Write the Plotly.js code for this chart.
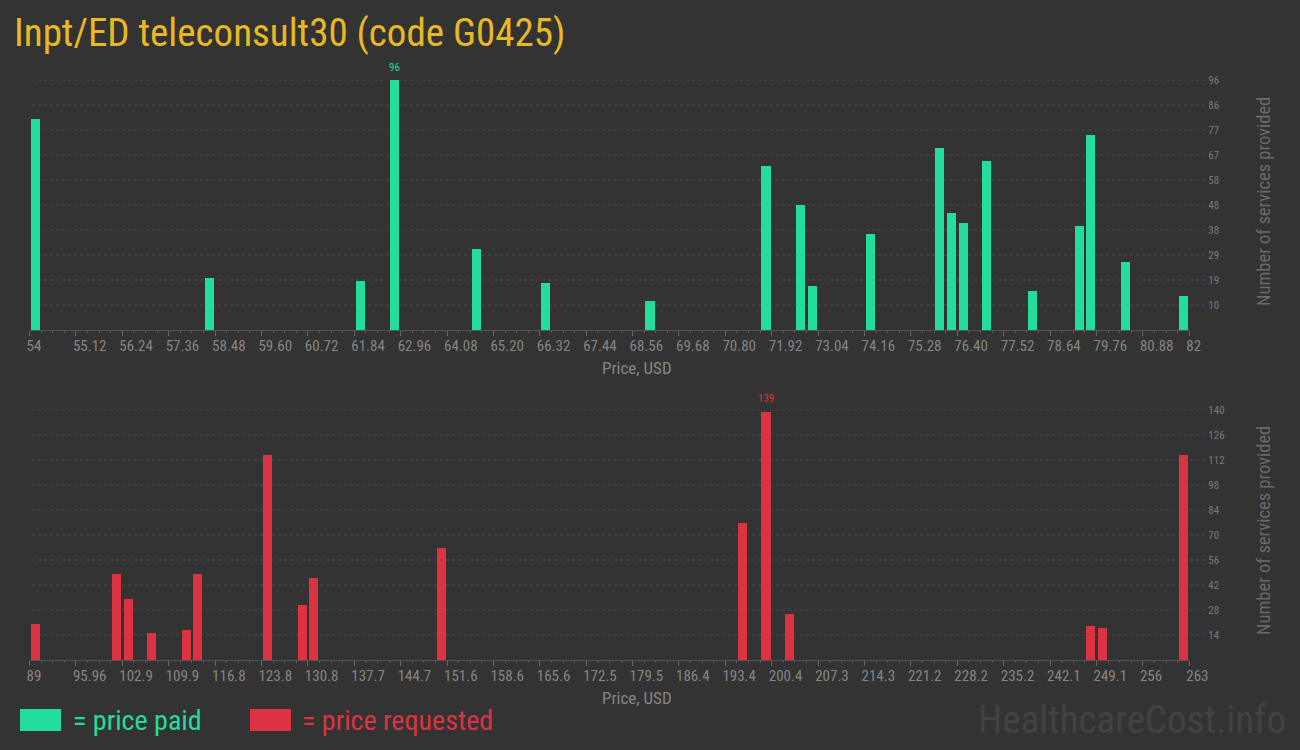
<!DOCTYPE html>
<html>
<head>
<meta charset="utf-8">
<script src="https://cdn.plot.ly/plotly-3.0.1.min.js"></script>
<style>
html,body{margin:0;padding:0;background:#333333;}
#chart{width:1300px;height:750px;}
</style>
</head>
<body>
<div id="chart"></div>
<script>
// ---- data ----
const paidPrices = [54.14, 58.34, 61.98, 62.82, 64.78, 66.46, 68.98, 71.78, 72.62, 72.90,
                    74.30, 75.98, 76.26, 76.54, 77.10, 78.22, 79.34, 79.62, 80.46, 81.86];
const paidCounts = [81, 20, 19, 96, 31, 18, 11, 63, 48, 17,
                    37, 70, 45, 41, 65, 15, 40, 75, 26, 13];

const reqPrices = [89.87, 102.05, 103.79, 107.27, 112.49, 114.23, 124.67, 129.89, 131.63,
                   150.77, 196.01, 199.49, 202.97, 248.21, 249.95, 262.13];
const reqCounts = [20, 48, 34, 15, 17, 48, 115, 31, 46,
                   63, 77, 139, 26, 19, 18, 115];

const paidTickText = ["54","55.12","56.24","57.36","58.48","59.60","60.72","61.84","62.96","64.08",
  "65.20","66.32","67.44","68.56","69.68","70.80","71.92","73.04","74.16","75.28","76.40",
  "77.52","78.64","79.76","80.88","82"];
const reqTickText = ["89","95.96","102.9","109.9","116.8","123.8","130.8","137.7","144.7","151.6",
  "158.6","165.6","172.5","179.5","186.4","193.4","200.4","207.3","214.3","221.2","228.2",
  "235.2","242.1","249.1","256","263"];
const paidYTickText = ["10","19","29","38","48","58","67","77","86","96"];
const reqYTickText = ["14","28","42","56","70","84","98","112","126","140"];

const titleText = "Inpt/ED teleconsult30 (code G0425)";
const xTitle = "Price, USD";
const yTitle = "Number of services provided";
const legendPaid = "= price paid";
const legendReq = "= price requested";
const watermark = "HealthcareCost.info";

// ---- styling ----
const GREEN = "#22dd9b";
const RED = "#dc3343";
const BG = "#333333";
const NARROW = "'Roboto Condensed', 'Liberation Sans Narrow', Roboto, sans-serif";
const W = 1300, H = 750;

const paidMin = 54, paidMax = 82, reqMin = 89, reqMax = 263;
const nBins = 100;
const paidBin = (paidMax - paidMin) / nBins;
const reqBin = (reqMax - reqMin) / nBins;
const paidYMax = Math.max(...paidCounts);
const reqYMax = 140;

const r2 = v => Math.round(v * 100) / 100;
const paidTickVals = paidTickText.map((_, i) => r2(paidMin + i * (paidMax - paidMin) / 25));
const reqTickVals = reqTickText.map((_, i) => r2(reqMin + i * (reqMax - reqMin) / 25));
const paidYTickVals = paidYTickText.map((_, i) => r2((i + 1) * paidYMax / 10));
const reqYTickVals = reqYTickText.map((_, i) => (i + 1) * reqYMax / 10);

const px = v => v / W;
const py = v => (H - v) / H;
const xDom = [px(29.5), px(1189.3)];

const traces = [
  {type: 'bar', x: paidPrices, y: paidCounts, width: paidBin * 0.78,
   marker: {color: GREEN}, xaxis: 'x', yaxis: 'y', hoverinfo: 'none', showlegend: false},
  {type: 'bar', x: reqPrices, y: reqCounts, width: reqBin * 0.78,
   marker: {color: RED}, xaxis: 'x2', yaxis: 'y2', hoverinfo: 'none', showlegend: false}
];

function xAxis(range, vals, text, anchor, tick0, dminor) {
  return {
    domain: xDom, range: range, anchor: anchor,
    tickmode: 'array', tickvals: vals, ticktext: text,
    ticks: 'outside', ticklen: 5, tickcolor: '#666', tickwidth: 1,
    ticklabelposition: 'outside right', ticklabelshift: -4, ticklabelstandoff: 2,
    minor: {tick0: tick0, dtick: dminor, ticks: 'outside', ticklen: 2, tickcolor: '#5a5a5a', showgrid: false},
    showline: true, linecolor: '#555', linewidth: 1,
    showgrid: false, zeroline: false,
    tickfont: {family: NARROW, size: 15, color: '#858585'},
    fixedrange: true
  };
}
function yAxis(range, vals, text, anchor, dom) {
  return {
    domain: dom, range: range, anchor: anchor, side: 'right',
    tickmode: 'array', tickvals: vals, ticktext: text,
    ticks: '', ticklabelstandoff: 18,
    showgrid: false, zeroline: false, showline: false,
    tickfont: {family: NARROW, size: 11, color: '#7a7a7a'},
    fixedrange: true
  };
}

const shapes = [];
paidYTickVals.forEach(v => shapes.push({type: 'line', xref: 'paper', yref: 'y',
  x0: px(32), x1: px(1205), y0: v, y1: v, line: {color: '#4c4c4c', width: 1, dash: '3px,3px'}, layer: 'below'}));
reqYTickVals.forEach(v => shapes.push({type: 'line', xref: 'paper', yref: 'y2',
  x0: px(32), x1: px(1205), y0: v, y1: v, line: {color: '#4c4c4c', width: 1, dash: '3px,3px'}, layer: 'below'}));
// legend swatches
shapes.push({type: 'rect', xref: 'paper', yref: 'paper', x0: px(20), x1: px(61), y0: py(731), y1: py(709),
  fillcolor: GREEN, line: {width: 0}});
shapes.push({type: 'rect', xref: 'paper', yref: 'paper', x0: px(250), x1: px(291), y0: py(731), y1: py(709),
  fillcolor: RED, line: {width: 0}});

const iPaidMax = paidCounts.indexOf(Math.max(...paidCounts));
const iReqMax = reqCounts.indexOf(Math.max(...reqCounts));

function ann(o) { return Object.assign({showarrow: false, xanchor: 'center', yanchor: 'middle'}, o); }

const annotations = [
  ann({text: String(paidCounts[iPaidMax]), x: paidPrices[iPaidMax], y: paidCounts[iPaidMax], xref: 'x', yref: 'y',
   yshift: 13, font: {family: NARROW, size: 11, color: GREEN}}),
  ann({text: String(reqCounts[iReqMax]), x: reqPrices[iReqMax], y: reqCounts[iReqMax], xref: 'x2', yref: 'y2',
   yshift: 13, font: {family: NARROW, size: 11, color: RED}}),
  ann({text: xTitle, xref: 'paper', yref: 'paper', x: px(637), y: py(368),
   font: {family: NARROW, size: 17, color: '#858585'}}),
  ann({text: xTitle, xref: 'paper', yref: 'paper', x: px(637), y: py(698),
   font: {family: NARROW, size: 17, color: '#858585'}}),
  ann({text: yTitle, xref: 'paper', yref: 'paper', x: px(1264), y: py(202), textangle: -90,
   font: {family: NARROW, size: 18.5, color: '#6a6a6a'}}),
  ann({text: yTitle, xref: 'paper', yref: 'paper', x: px(1264), y: py(531), textangle: -90,
   font: {family: NARROW, size: 18.5, color: '#6a6a6a'}}),
  ann({text: legendPaid, xref: 'paper', yref: 'paper', x: px(71), y: py(720), xanchor: 'left',
   font: {family: NARROW, size: 28, color: GREEN}}),
  ann({text: legendReq, xref: 'paper', yref: 'paper', x: px(300), y: py(720), xanchor: 'left',
   font: {family: NARROW, size: 28, color: RED}}),
  ann({text: watermark, xref: 'paper', yref: 'paper', x: px(1288), y: py(720), xanchor: 'right',
   font: {family: NARROW, size: 39, color: '#424242'}})
];

const layout = {
  width: W, height: H,
  margin: {l: 0, r: 0, t: 0, b: 0},
  paper_bgcolor: BG, plot_bgcolor: BG,
  showlegend: false,
  title: {text: titleText, x: px(14), xanchor: 'left', xref: 'paper', y: py(32), yref: 'paper', yanchor: 'middle',
          font: {family: NARROW, size: 39, color: '#e8b923'}},
  xaxis: xAxis([paidMin, paidMax], paidTickVals, paidTickText, 'y', paidMin, paidBin),
  yaxis: yAxis([0, paidYMax], paidYTickVals, paidYTickText, 'x', [py(330), py(80)]),
  xaxis2: xAxis([reqMin, reqMax], reqTickVals, reqTickText, 'y2', reqMin, reqBin),
  yaxis2: yAxis([0, reqYMax], reqYTickVals, reqYTickText, 'x2', [py(660), py(410)]),
  shapes: shapes,
  annotations: annotations,
  bargap: 0
};

Plotly.newPlot('chart', traces, layout, {staticPlot: true, displayModeBar: false});
</script>
</body>
</html>
